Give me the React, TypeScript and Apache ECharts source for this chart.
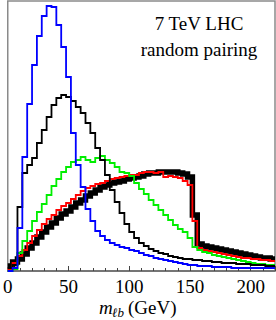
import React, { useEffect, useRef } from "react";
import * as echarts from "echarts";

// m_lb histograms, 4 GeV bins from 0 to 220 GeV (arbitrary units)
const binWidth = 4;
const xMin = 0;
const xMax = 220;
const yMax = 270;

const blue = [0, 3, 43, 114, 167, 206, 235, 255, 265, 264, 246, 224, 194, 138, 106, 84, 62, 50, 40, 35, 31, 28, 26, 24, 23, 21, 20, 18, 16, 15, 13, 12, 11, 10, 9, 8, 7, 6, 6, 5, 5, 5, 4, 4, 4, 4, 3, 3, 3, 3, 3, 3, 3, 3, 3];
const blackThin = [3, 6, 64, 98, 106, 113, 128, 141, 154, 166, 173, 176, 174, 170, 164, 158, 148, 138, 123, 111, 96, 81, 69, 58, 47, 39, 33, 28, 25, 22, 20, 18, 17, 15, 14, 13, 12, 12, 11, 11, 10, 10, 9, 9, 8, 8, 8, 7, 7, 7, 6, 6, 6, 5, 5];
const green = [0, 2, 18, 30, 40, 50, 59, 67, 76, 85, 92, 99, 104, 109, 111, 114, 111, 109, 113, 115, 111, 108, 104, 99, 98, 95, 88, 82, 77, 71, 66, 61, 56, 51, 46, 42, 39, 33, 24, 21, 19, 18, 16, 15, 14, 13, 12, 11, 10, 9, 8, 7, 7, 6, 6];
const red = [2, 8, 15, 21, 28, 35, 41, 47, 52, 56, 61, 65, 68, 72, 76, 80, 83, 85, 87, 88, 90, 92, 93, 94, 95, 96, 96, 98, 99, 99, 98, 99, 94, 95, 94, 93, 90, 86, 50, 23, 21, 20, 19, 18, 17, 16, 15, 14, 13, 13, 12, 12, 11, 11, 10];
const blackThick = [5, 9, 12, 17, 23, 28, 34, 39, 44, 48, 53, 57, 60, 64, 68, 71, 75, 78, 81, 84, 86, 88, 89, 90, 92, 93, 94, 95, 97, 98, 98, 99, 99, 99, 99, 98, 97, 94, 56, 27, 25, 24, 23, 22, 21, 20, 19, 18, 17, 16, 15, 14, 13, 13, 12];

const titleLines = ["7 TeV LHC", "random pairing"];

function toSteps(v: number[]): number[][] {
  const pts = v.map((y, i) => [xMin + i * binWidth, y]);
  pts.push([xMax, v[v.length - 1]]);
  return pts;
}

const SERIF = "'Liberation Serif', 'DejaVu Serif', serif";

export default function App() {
  const ref = useRef<HTMLDivElement>(null);
  useEffect(() => {
    if (!ref.current) return;
    const chart = echarts.init(ref.current, null, { renderer: "svg" });
    const mk = (name: string, data: number[], color: string, width: number, z: number) => ({
      name,
      type: "line",
      step: "end",
      data: toSteps(data),
      showSymbol: false,
      symbol: "none",
      lineStyle: { color, width, join: "miter" },
      z,
    });
    chart.setOption({
      animation: false,
      backgroundColor: "#fff",
      grid: {
        left: 5,
        right: 1,
        top: 1,
        bottom: 49,
        show: true,
        borderColor: "#8a8a8a",
        borderWidth: 1.5,
        backgroundColor: "transparent",
      },
      xAxis: {
        type: "value",
        min: xMin,
        max: xMax,
        interval: 50,
        axisLine: { show: true, lineStyle: { color: "#666", width: 1.5 } },
        axisTick: { show: true, inside: true, length: 5, lineStyle: { color: "#444", width: 1 } },
        minorTick: { show: true, splitNumber: 5, length: 3, lineStyle: { color: "#444", width: 1 } },
        splitLine: { show: false },
        axisLabel: { fontSize: 19, fontFamily: SERIF, color: "#000", margin: 6 },
      },
      yAxis: { type: "value", min: 0, max: yMax, show: false },
      series: [
        mk("thick", blackThick, "#000", 5.5, 1),
        mk("red", red, "#ff0000", 1.8, 2),
        mk("green", green, "#00ee00", 1.8, 3),
        mk("black", blackThin, "#000", 1.8, 4),
        mk("blue", blue, "#0000ff", 1.8, 5),
      ],
      graphic: [
        { type: "text", left: null, x: 199, y: 23, style: { text: titleLines[0], font: `19px ${SERIF}`, fill: "#000", align: "center", verticalAlign: "middle" }, z: 10 },
        { type: "text", x: 199, y: 49, style: { text: titleLines[1], font: `19px ${SERIF}`, fill: "#000", align: "center", verticalAlign: "middle" }, z: 10 },
        { type: "text", x: 99, y: 307, style: { text: "m", font: `italic 19px ${SERIF}`, fill: "#000", align: "left", verticalAlign: "middle" } },
        { type: "text", x: 112, y: 312, style: { text: "ℓb", font: `italic 13px ${SERIF}`, fill: "#000", align: "left", verticalAlign: "middle" } },
        { type: "text", x: 128, y: 307, style: { text: "(GeV)", font: `19px ${SERIF}`, fill: "#000", align: "left", verticalAlign: "middle" } },
      ],
    });
    return () => chart.dispose();
  }, []);
  return (
    <div
      ref={ref}
      style={{ position: "fixed", left: 0, top: 0, width: 276, height: 320, background: "#fff" }}
    />
  );
}
